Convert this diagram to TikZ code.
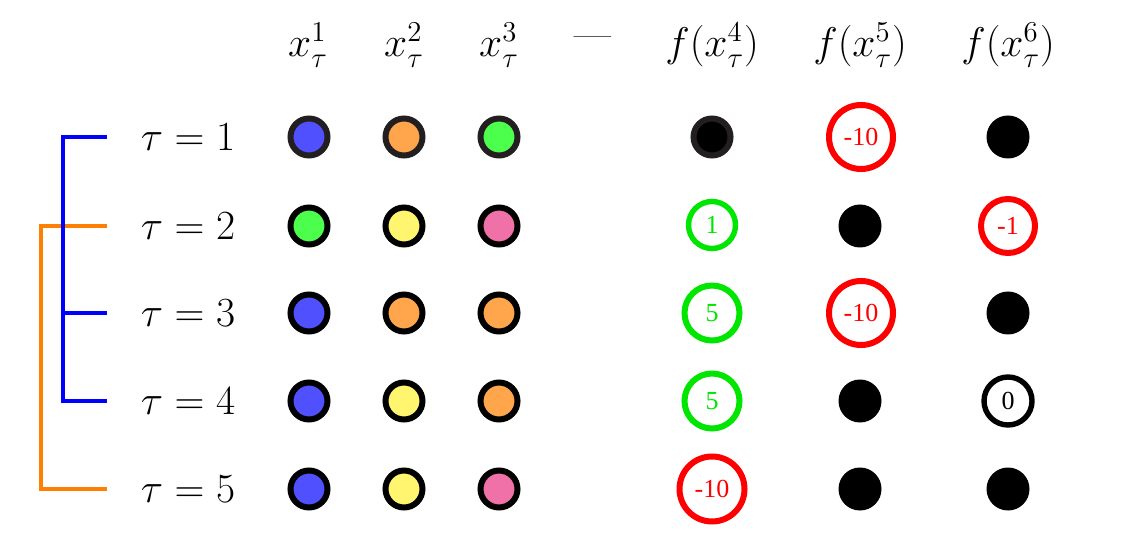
\documentclass[tikz,border=0pt]{standalone}
\usepackage{fontspec}
\newfontfamily\numfont{Liberation Serif}
\definecolor{cblue}{RGB}{80,80,255}
\definecolor{corange}{RGB}{255,166,77}
\definecolor{cgreen}{RGB}{77,255,77}
\definecolor{cyellow}{RGB}{255,245,110}
\definecolor{cpink}{RGB}{240,112,168}
\definecolor{cdark}{RGB}{35,31,32}
\definecolor{brblue}{RGB}{0,0,255}
\definecolor{brorange}{RGB}{255,128,0}
\definecolor{vred}{RGB}{255,0,0}
\definecolor{vgreen}{RGB}{0,230,0}
\begin{document}
\begin{tikzpicture}[x=0.5pt,y=-0.5pt,
  hdr/.style={font=\fontsize{20}{24}\selectfont, anchor=base, inner sep=0pt},
  lab/.style={font=\fontsize{20}{24}\selectfont, inner sep=0pt},
  dot/.style={circle, draw=black, line width=3pt, minimum size=18.5pt, inner sep=0pt, fill=#1},
  blk/.style={circle, fill=black, minimum size=21.5pt, inner sep=0pt},
  val/.style={circle, line width=3pt, inner sep=0pt, font=\numfont\fontsize{13}{15}\selectfont, text=#1, draw=#1},
  br/.style={line width=2pt, line join=miter}]
\useasboundingbox (0,0) rectangle (1133,533);
% headers
\node[hdr] (h1) at (308,57) {$x_\tau^1$};
\node[hdr] (h2) at (404,57) {$x_\tau^2$};
\node[hdr] (h3) at (499,57) {$x_\tau^3$};
\node[lab] (hd) at (593,42) {---};
\node[hdr] (h4) at (712,57) {$f(x_\tau^4)$};
\node[hdr] (h5) at (860,57) {$f(x_\tau^5)$};
\node[hdr] (h6) at (1008,57) {$f(x_\tau^6)$};
% row labels
\node[lab] (t1) at (188,137) {$\tau=1$};
\node[lab] (t2) at (188,226) {$\tau=2$};
\node[lab] (t3) at (188,313) {$\tau=3$};
\node[lab] (t4) at (188,401) {$\tau=4$};
\node[lab] (t5) at (188,489) {$\tau=5$};
% row 1
\node[dot=cblue, draw=cdark] (a11) at (309,137) {};
\node[dot=corange, draw=cdark] (a12) at (404,137) {};
\node[dot=cgreen, draw=cdark] (a13) at (499,137) {};
\node[dot=black, draw=cdark] (a14) at (712,137) {};
\node[val=vred, minimum size=32pt] (a15) at (861,137) {-10};
\node[blk] (a16) at (1008,137) {};
% row 2
\node[dot=cgreen] (a21) at (309,226) {};
\node[dot=cyellow] (a22) at (404,226) {};
\node[dot=cpink] (a23) at (499,226) {};
\node[val=vgreen, minimum size=23.5pt, line width=2.7pt] (a24) at (712,225) {1};
\node[blk] (a25) at (860,226) {};
\node[val=vred, minimum size=27pt] (a26) at (1008,226) {-1};
% row 3
\node[dot=cblue] (a31) at (309,313) {};
\node[dot=corange] (a32) at (404,313) {};
\node[dot=corange] (a33) at (499,313) {};
\node[val=vgreen, minimum size=27.5pt] (a34) at (712,313) {5};
\node[val=vred, minimum size=32pt] (a35) at (861,313) {-10};
\node[blk] (a36) at (1008,313) {};
% row 4
\node[dot=cblue] (a41) at (309,401) {};
\node[dot=cyellow] (a42) at (404,401) {};
\node[dot=corange] (a43) at (499,401) {};
\node[val=vgreen, minimum size=27.5pt] (a44) at (712,401) {5};
\node[blk] (a45) at (860,401) {};
\node[val=black, minimum size=24pt, line width=2.7pt] (a46) at (1008,401) {0};
% row 5
\node[dot=cblue] (a51) at (309,489) {};
\node[dot=cyellow] (a52) at (404,489) {};
\node[dot=cpink] (a53) at (499,489) {};
\node[val=vred, minimum size=32.5pt] (a54) at (712,489) {-10};
\node[blk] (a55) at (860,489) {};
\node[blk] (a56) at (1008,489) {};
% brackets
\coordinate (o2) at (107,226);
\coordinate (o5) at (107,489);
\coordinate (ot) at (41,226);
\coordinate (ob) at (41,489);
\coordinate (b1) at (107,137);
\coordinate (b3) at (107,313);
\coordinate (b4) at (107,401);
\coordinate (bt) at (63,137);
\coordinate (bm) at (63,313);
\coordinate (bb) at (63,401);
\draw[br, brorange] (o2) -- (ot) -- (ob) -- (o5);
\draw[br, brblue] (b1) -- (bt) -- (bb) -- (b4);
\draw[br, brblue] (bm) -- (b3);
\end{tikzpicture}
\end{document}
